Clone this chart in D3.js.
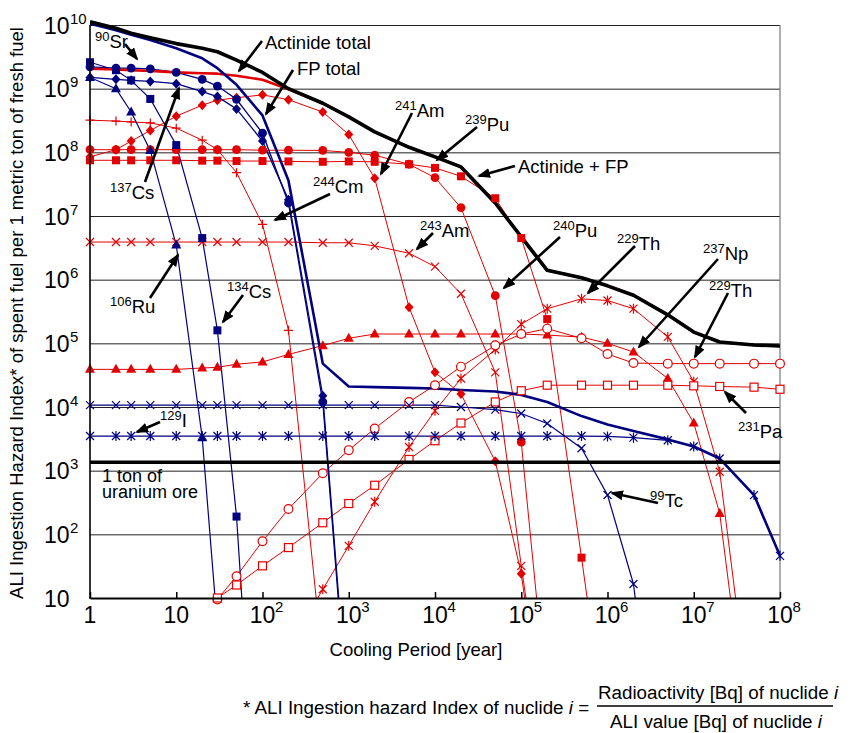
<!DOCTYPE html>
<html>
<head>
<meta charset="utf-8">
<script src="https://cdnjs.cloudflare.com/ajax/libs/d3/7.8.5/d3.min.js"></script>
<style>
  body { margin: 0; background: #fff; }
  svg { display: block; }
  text { font-family: "Liberation Sans", Arial, sans-serif; fill: #000; }
</style>
</head>
<body>
<div class="chart_area"></div>
<script>
// cooling period grid (years)
var years = [1,2,3,5,10,20,30,50,100,200,500,1e3,2e3,5e3,1e4,2e4,5e4,1e5,2e5,5e5,1e6,2e6,5e6,1e7,2e7,5e7,1e8];

// totals
var actinideFP    = [1.12e10,8.9e9,7.4e9,6.3e9,5.1e9,4.3e9,3.8e9,2.8e9,1.8e9,1.0e9,5.9e8,3.6e8,2.1e8,1.2e8,8.5e7,5.9e7,1.6e7,4.7e6,1.4e6,1.07e6,8e5,5.7e5,2.8e5,1.5e5,1.05e5,9.4e4,9.1e4];
var actinideTotal = [2.05e9,2.0e9,1.95e9,1.9e9,1.8e9,1.75e9,1.72e9,1.6e9,1.38e9,0.98e9,5.9e8,3.6e8,2.1e8,1.2e8,8.5e7,5.9e7,1.6e7,4.7e6,1.4e6,1.07e6,8e5,5.7e5,2.8e5,1.5e5,1.05e5,9.4e4,9.1e4];
var fpTotal       = [1.05e10,8.3e9,7e9,5.8e9,4.3e9,3e9,2.1e9,1.15e9,3.8e8,3.6e7,4.8e4,2.1e4,2.05e4,2.0e4,1.95e4,1.85e4,1.75e4,1.55e4,1.2e4,7.2e3,5.3e3,4.2e3,3.1e3,2.4e3,1.55e3,414,46];

// fission products
var sr90  = [2.2e9,2.1e9,2.1e9,2.05e9,1.8e9,1.4e9,1.1e9,6.8e8,2.0e8,1.6e7,1.2e4,0.08];
var cs137 = [1.5e9,1.4e9,1.35e9,1.3e9,1.2e9,9e8,7.5e8,4.8e8,1.5e8,1.8e7,1.5e4,0.1];
var ru106 = [1.5e9,1.0e9,4.3e8,1.07e8,3.5e6,3.3e3,3.5];
var cs134 = [2.6e9,1.95e9,1.35e9,6.9e8,1.3e8,4.5e6,1.6e5,190,1e-4];
var i129  = [3.5e3,3.5e3,3.5e3,3.5e3,3.5e3,3.5e3,3.5e3,3.5e3,3.5e3,3.5e3,3.5e3,3.5e3,3.5e3,3.5e3,3.5e3,3.5e3,3.5e3,3.5e3,3.5e3,3.5e3,3.45e3,3.3e3,3.0e3,2.4e3,1.55e3,414,46];
var tc99  = [1.07e4,1.07e4,1.07e4,1.07e4,1.07e4,1.07e4,1.07e4,1.07e4,1.07e4,1.07e4,1.07e4,1.07e4,1.07e4,1.07e4,1.07e4,1.0e4,9.1e3,7.9e3,5.5e3,2.25e3,415,16.6,8e-4];

// actinides
var cm244 = [3.2e8,3.1e8,3.0e8,2.9e8,2.4e8,1.55e8,1.1e8,4.8e7,7.4e6,1.6e5,1.0];
var am241 = [8.5e7,1.1e8,1.5e8,2.2e8,3.7e8,5.5e8,6.6e8,7.2e8,8e8,6.7e8,4.3e8,1.9e8,3.9e7,3.7e5,3.5e4,1.6e4,1.4e3,24,0.03];
var am243 = [3.9e6,3.9e6,3.9e6,3.9e6,3.9e6,3.9e6,3.9e6,3.9e6,3.9e6,3.9e6,3.8e6,3.8e6,3.4e6,2.6e6,1.6e6,6.0e5,3.5e4,32,0.05];
var pu239 = [7.5e7,7.5e7,7.5e7,7.5e7,7.5e7,7.4e7,7.4e7,7.3e7,7.3e7,7.2e7,7.1e7,7.2e7,7.1e7,6.5e7,5.7e7,4.2e7,1.9e7,4.5e6,2.4e5,43,0.05];
var pu240 = [1.1e8,1.1e8,1.1e8,1.1e8,1.1e8,1.1e8,1.1e8,1.1e8,1.08e8,1.08e8,1.07e8,1.0e8,9e7,6.5e7,4e7,1.35e7,5.6e5,2.8e3,0.2];
var np237 = [3.9e4,3.9e4,3.9e4,3.9e4,3.9e4,4.1e4,4.2e4,4.7e4,5.1e4,6.7e4,9.2e4,1.2e5,1.4e5,1.4e5,1.4e5,1.4e5,1.4e5,1.4e5,1.35e5,1.25e5,1e5,7.3e4,2.8e4,5.6e3,213,0.012];
var th229a = [null,null,null,null,null,null,null,null,null,1.6,13.7,66,325,2.35e3,8.7e3,2.8e4,8e4,2e5,3.5e5,5e5,4.7e5,3.5e5,1.26e5,2.5e4,960,0.05];
var th229b = [null,null,null,null,null,null,9.5,22,78,250,910,2.1e3,4.6e3,1.2e4,2.2e4,4.3e4,9.3e4,1.4e5,1.7e5,1.2e5,6.8e4,4.9e4,4.8e4,4.8e4,4.8e4,4.8e4,4.8e4];
var pa231 = [null,null,null,null,null,null,10,16,32,62,152,305,590,1.5e3,2.95e3,5.6e3,1.2e4,1.8e4,2.2e4,2.2e4,2.2e4,2.2e4,2.2e4,2.15e4,2.1e4,2.05e4,1.9e4];

var uraniumOre = 1.35e3;

var xTicks = [1,10,1e2,1e3,1e4,1e5,1e6,1e7,1e8];
var xTickLabels = ["1","10","10^2","10^3","10^4","10^5","10^6","10^7","10^8"];
var yTicks = [10,1e2,1e3,1e4,1e5,1e6,1e7,1e8,1e9,1e10];
var yTickLabels = ["10","10^2","10^3","10^4","10^5","10^6","10^7","10^8","10^9","10^10"];

var red = "#e30000", navy = "#000080";

var W = 861, H = 733;
var pL = 90, pR = 780, pT = 25, pB = 598;

var svg = d3.select(".chart_area").append("svg").attr("width", W).attr("height", H);

var x = d3.scaleLog().domain([1, 1e8]).range([pL, pR]);
var y = d3.scaleLog().domain([10, 1e10]).range([pB, pT]);

var defs = svg.append("defs");
defs.append("clipPath").attr("id", "plotclip")
  .append("rect").attr("x", pL).attr("y", 8).attr("width", pR - pL).attr("height", pB - 8);

defs.append("marker")
  .attr("id", "arrow").attr("markerUnits", "userSpaceOnUse")
  .attr("markerWidth", 14).attr("markerHeight", 12)
  .attr("refX", 11).attr("refY", 5).attr("orient", "auto")
  .append("path").attr("d", "M0,0 L13,5 L0,10 Z").attr("fill", "#000");

// grid
var grid = svg.append("g").attr("transform", "translate(" + pL + ",0)")
  .call(d3.axisLeft(y).tickValues(yTicks.slice(1)).tickSize(-(pR - pL)).tickFormat(""));
grid.select(".domain").remove();
grid.selectAll("line").attr("stroke", "#222").attr("stroke-width", 1);

svg.append("line").attr("x1", pR).attr("x2", pR).attr("y1", pT).attr("y2", pB)
  .attr("stroke", "#777").attr("stroke-width", 1.2);

// series
var series = [
  {v: cm244, c: red, m: "plus", w: 1},
  {v: am241, c: red, m: "diamond", w: 1},
  {v: am243, c: red, m: "x", w: 1},
  {v: pu239, c: red, m: "square", w: 1},
  {v: pu240, c: red, m: "circle", w: 1},
  {v: np237, c: red, m: "triangle", w: 1},
  {v: th229a, c: red, m: "star", w: 1},
  {v: th229b, c: red, m: "ocircle", w: 1},
  {v: pa231, c: red, m: "osquare", w: 1},
  {v: sr90, c: navy, m: "circle", w: 1.3},
  {v: cs137, c: navy, m: "diamond", w: 1.3},
  {v: ru106, c: navy, m: "triangle", w: 1.2},
  {v: cs134, c: navy, m: "square", w: 1.2},
  {v: i129, c: navy, m: "star", w: 1.2},
  {v: tc99, c: navy, m: "x", w: 1.2}
];
var totals = [
  {v: actinideTotal, c: red, w: 2.6},
  {v: fpTotal, c: navy, w: 2.6},
  {v: actinideFP, c: "#000", w: 3.6}
];

function pts(vals) {
  return vals.map(function(d, i){ return [years[i], d]; });
}

var line = d3.line()
  .defined(function(d){ return d[1] != null; })
  .x(function(d){ return x(d[0]); })
  .y(function(d){ return y(d[1]); });

var plot = svg.append("g").attr("clip-path", "url(#plotclip)");

series.forEach(function(s){
  plot.append("path").datum(pts(s.v))
    .attr("d", line).attr("fill", "none")
    .attr("stroke", s.c).attr("stroke-width", s.w);
});
totals.forEach(function(s){
  plot.append("path").datum(pts(s.v))
    .attr("d", line).attr("fill", "none")
    .attr("stroke", s.c).attr("stroke-width", s.w)
    .attr("stroke-linejoin", "round");
});

function drawMarker(g, type, cx, cy, c) {
  var r = 4.4;
  if (type == "circle") {
    g.append("circle").attr("cx", cx).attr("cy", cy).attr("r", r).attr("fill", c);
  } else if (type == "ocircle") {
    g.append("circle").attr("cx", cx).attr("cy", cy).attr("r", r)
      .attr("fill", "#fff").attr("stroke", c).attr("stroke-width", 1.2);
  } else if (type == "square") {
    g.append("rect").attr("x", cx - 4).attr("y", cy - 4).attr("width", 8).attr("height", 8).attr("fill", c);
  } else if (type == "osquare") {
    g.append("rect").attr("x", cx - 4).attr("y", cy - 4).attr("width", 8).attr("height", 8)
      .attr("fill", "#fff").attr("stroke", c).attr("stroke-width", 1.2);
  } else if (type == "diamond") {
    g.append("path").attr("d", "M" + cx + "," + (cy - 5) + "L" + (cx + 4.5) + "," + cy + "L" + cx + "," + (cy + 5) + "L" + (cx - 4.5) + "," + cy + "Z").attr("fill", c);
  } else if (type == "triangle") {
    g.append("path").attr("d", "M" + cx + "," + (cy - 5.5) + "L" + (cx + 5) + "," + (cy + 3.5) + "L" + (cx - 5) + "," + (cy + 3.5) + "Z").attr("fill", c);
  } else {
    var p = "";
    if (type == "x" || type == "star") p += "M" + (cx - 4) + "," + (cy - 4) + "L" + (cx + 4) + "," + (cy + 4) + "M" + (cx - 4) + "," + (cy + 4) + "L" + (cx + 4) + "," + (cy - 4);
    if (type == "star") p += "M" + cx + "," + (cy - 5) + "L" + cx + "," + (cy + 5);
    if (type == "plus") p += "M" + (cx - 4.5) + "," + cy + "L" + (cx + 4.5) + "," + cy + "M" + cx + "," + (cy - 4.5) + "L" + cx + "," + (cy + 4.5);
    g.append("path").attr("d", p).attr("stroke", c).attr("stroke-width", 1.2).attr("fill", "none");
  }
}

var marks = svg.append("g");
series.forEach(function(s){
  pts(s.v).forEach(function(d){
    if (d[1] == null || d[1] < 9) return;
    drawMarker(marks, s.m, x(d[0]), y(d[1]), s.c);
  });
});

// 1 ton of uranium ore
svg.append("line").attr("x1", pL).attr("x2", pR)
  .attr("y1", y(uraniumOre)).attr("y2", y(uraniumOre))
  .attr("stroke", "#000").attr("stroke-width", 3.5);
var ore = svg.append("text").attr("x", 102).attr("y", 482).attr("font-size", 18);
ore.append("tspan").attr("x", 102).text("1 ton of");
ore.append("tspan").attr("x", 102).attr("dy", 15.5).text("uranium ore");

// axes
var xAxis = svg.append("g").attr("transform", "translate(0," + pB + ")")
  .call(d3.axisBottom(x).tickValues(xTicks).tickSizeInner(-6).tickSizeOuter(0).tickFormat(""));
xAxis.select(".domain").attr("stroke", "#000").attr("stroke-width", 2.2);
xAxis.selectAll(".tick line").attr("stroke", "#000").attr("stroke-width", 1.5);

svg.append("line").attr("x1", pL).attr("x2", pL).attr("y1", pT).attr("y2", pB + 1)
  .attr("stroke", "#000").attr("stroke-width", 1.6);

xTicks.forEach(function(v, i){
  var parts = xTickLabels[i].split("^");
  svg.append("text").attr("x", x(v)).attr("y", 623).attr("text-anchor", "middle")
    .attr("font-size", 23).text(parts[0]);
  if (parts[1]) {
    svg.append("text").attr("x", x(v) + 12.5).attr("y", 612).attr("font-size", 15).text(parts[1]);
  }
});
yTicks.forEach(function(v, i){
  var parts = yTickLabels[i].split("^");
  svg.append("text").attr("x", 44).attr("y", y(v) + 8.5).attr("font-size", 23).text(parts[0]);
  if (parts[1]) {
    svg.append("text").attr("x", 70).attr("y", y(v) - 1.5).attr("font-size", 15).text(parts[1]);
  }
});

svg.append("text").attr("x", 416).attr("y", 656).attr("text-anchor", "middle")
  .attr("font-size", 18.5).text("Cooling Period [year]");
svg.append("text").attr("transform", "translate(23,313) rotate(-90)").attr("text-anchor", "middle")
  .attr("font-size", 18.5).text("ALI Ingestion Hazard Index* of spent fuel per 1 metric ton of fresh fuel");

// annotations
function nuclide(xp, yp, mass, sym) {
  var t = svg.append("text").attr("x", xp).attr("y", yp).attr("font-size", 18.5);
  t.append("tspan").attr("font-size", 13).attr("dy", -7).text(mass);
  t.append("tspan").attr("dy", 7).text(sym);
}
function arrow(x1, y1, x2, y2) {
  svg.append("line").attr("x1", x1).attr("y1", y1).attr("x2", x2).attr("y2", y2)
    .attr("stroke", "#000").attr("stroke-width", 2.6).attr("marker-end", "url(#arrow)");
}

nuclide(95, 48, "90", "Sr");     arrow(125, 44, 137, 59);
nuclide(110, 199, "137", "Cs");  arrow(145, 182, 179, 88);
nuclide(395, 117, "241", "Am");  arrow(412, 113, 381, 174);
nuclide(465, 131, "239", "Pu");  arrow(477, 127, 437, 160);
nuclide(313, 193, "244", "Cm");  arrow(330, 194, 275, 220);
nuclide(420, 237, "243", "Am");  arrow(433, 233, 417, 249);
nuclide(553, 237, "240", "Pu");  arrow(560, 237, 504, 288);
nuclide(617, 250, "229", "Th");  arrow(635, 246, 588, 293);
nuclide(703, 260, "237", "Np");  arrow(718, 259, 639, 347);
nuclide(709, 297, "229", "Th");  arrow(728, 293, 695, 357);
nuclide(738, 438, "231", "Pa");  arrow(746, 413, 725, 392);
nuclide(110, 313, "106", "Ru");  arrow(150, 298, 178, 255);
nuclide(227, 298, "134", "Cs");  arrow(243, 295, 223, 322);
nuclide(160, 427, "129", "I");   arrow(160, 422, 137, 432);
nuclide(650, 507, "99", "Tc");   arrow(658, 503, 612, 493);

svg.append("text").attr("x", 265).attr("y", 49).attr("font-size", 18.5).text("Actinide total");
arrow(262, 41, 239, 71);
svg.append("text").attr("x", 297).attr("y", 75).attr("font-size", 18.5).text("FP total");
arrow(293, 70, 266, 114);
svg.append("text").attr("x", 518).attr("y", 173).attr("font-size", 18.5).text("Actinide + FP");
arrow(515, 166, 479, 176);

// footnote formula
var f = svg.append("text").attr("x", 243).attr("y", 714).attr("font-size", 18.8);
f.append("tspan").text("* ALI Ingestion hazard Index of nuclide ");
f.append("tspan").attr("font-style", "italic").text("i");
f.append("tspan").text(" =");
var num = svg.append("text").attr("x", 718).attr("y", 699).attr("text-anchor", "middle").attr("font-size", 18.8);
num.append("tspan").text("Radioactivity [Bq] of  nuclide ");
num.append("tspan").attr("font-style", "italic").text("i");
svg.append("line").attr("x1", 597).attr("x2", 833).attr("y1", 706).attr("y2", 706)
  .attr("stroke", "#000").attr("stroke-width", 1.3);
var den = svg.append("text").attr("x", 716).attr("y", 728).attr("text-anchor", "middle").attr("font-size", 18.8);
den.append("tspan").text("ALI value [Bq] of nuclide ");
den.append("tspan").attr("font-style", "italic").text("i");
</script>
</body>
</html>
